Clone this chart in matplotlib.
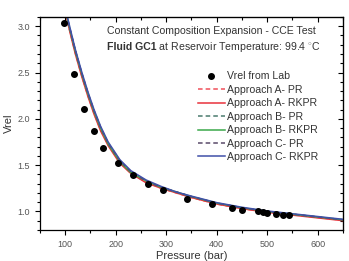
import matplotlib
matplotlib.use("Agg")
import matplotlib.pyplot as plt
from matplotlib.ticker import MultipleLocator

plt.rcParams["font.family"] = ["Liberation Sans", "DejaVu Sans"]
plt.rcParams["mathtext.fontset"] = "custom"
plt.rcParams["mathtext.rm"] = "Liberation Sans"

# lab points
P_LAB = [98, 118, 137, 156, 175, 204, 234, 264, 293, 342, 391, 430, 451, 482, 492, 500, 517, 531, 543]
V_LAB = [3.04, 2.48, 2.11, 1.87, 1.69, 1.52, 1.39, 1.30, 1.23, 1.13, 1.08, 1.04, 1.02, 1.00, 0.995, 0.985, 0.975, 0.965, 0.96]

# model curves
P_CURVE = [95, 100, 110, 120, 133, 145, 157, 170, 185, 208, 230, 260, 290, 320, 350, 400, 450, 500, 550, 600, 650]
A_PR   = [3.30, 3.16, 2.93, 2.71, 2.46, 2.25, 2.06, 1.88, 1.72, 1.53, 1.41, 1.32, 1.25, 1.20, 1.15, 1.08, 1.03, 0.995, 0.965, 0.935, 0.905]
A_RKPR = [3.29, 3.15, 2.92, 2.70, 2.45, 2.24, 2.05, 1.87, 1.71, 1.52, 1.41, 1.31, 1.25, 1.20, 1.15, 1.08, 1.03, 0.99, 0.96, 0.93, 0.90]
B_PR   = [3.32, 3.18, 2.95, 2.73, 2.48, 2.27, 2.08, 1.90, 1.73, 1.54, 1.42, 1.33, 1.26, 1.21, 1.16, 1.09, 1.04, 1.00, 0.97, 0.94, 0.91]
B_RKPR = [3.32, 3.18, 2.95, 2.73, 2.48, 2.27, 2.08, 1.90, 1.73, 1.54, 1.42, 1.33, 1.26, 1.21, 1.16, 1.09, 1.04, 1.00, 0.97, 0.94, 0.91]
C_PR   = [3.33, 3.19, 2.96, 2.74, 2.49, 2.28, 2.09, 1.91, 1.74, 1.55, 1.43, 1.33, 1.26, 1.21, 1.16, 1.09, 1.04, 1.00, 0.97, 0.94, 0.91]
C_RKPR = [3.34, 3.20, 2.97, 2.75, 2.50, 2.29, 2.10, 1.92, 1.75, 1.56, 1.44, 1.34, 1.27, 1.21, 1.165, 1.095, 1.045, 1.005, 0.975, 0.945, 0.915]

CURVES = [
    ("Approach A- PR", A_PR, "#f0505a", "--"),
    ("Approach A- RKPR", A_RKPR, "#e8323c", "-"),
    ("Approach B- PR", B_PR, "#4a7a6e", "--"),
    ("Approach B- RKPR", B_RKPR, "#3aa84a", "-"),
    ("Approach C- PR", C_PR, "#5a4a6a", "--"),
    ("Approach C- RKPR", C_RKPR, "#4050a8", "-"),
]

fig = plt.figure(figsize=(3.49, 2.61), dpi=100)
ax = fig.add_axes([0.1146, 0.119, 0.868, 0.816])

ax.plot(P_LAB, V_LAB, "o", color="black", ms=4, label="Vrel from Lab", zorder=5)
for name, vals, col, ls in CURVES:
    ax.plot(P_CURVE, vals, ls, color=col, lw=1.1, label=name,
            dashes=(3, 2) if ls == "--" else (None, None))

ax.set_xlim(50, 650)
ax.set_ylim(0.8, 3.1)
ax.xaxis.set_major_locator(MultipleLocator(100))
ax.xaxis.set_minor_locator(MultipleLocator(50))
ax.yaxis.set_major_locator(MultipleLocator(0.5))
ax.yaxis.set_minor_locator(MultipleLocator(0.1))
ax.tick_params(which="both", direction="out", labelsize=6.5, labelcolor="#555555", width=0.8)
ax.tick_params(which="major", length=3.5)
ax.tick_params(which="minor", length=2)
for s in ax.spines.values():
    s.set_linewidth(0.9)

# mirrored inward ticks on top and right
secx = ax.secondary_xaxis("top")
secx.xaxis.set_major_locator(MultipleLocator(100))
secx.xaxis.set_minor_locator(MultipleLocator(50))
secx.tick_params(which="both", direction="in", labeltop=False, width=0.8)
secx.tick_params(which="major", length=3.5)
secx.tick_params(which="minor", length=2)
secy = ax.secondary_yaxis("right")
secy.yaxis.set_major_locator(MultipleLocator(0.5))
secy.yaxis.set_minor_locator(MultipleLocator(0.1))
secy.tick_params(which="both", direction="in", labelright=False, width=0.8)
secy.tick_params(which="major", length=3.5)
secy.tick_params(which="minor", length=2)

ax.set_xlabel("Pressure (bar)", fontsize=8, color="#333333", labelpad=2)
ax.set_ylabel("Vrel", fontsize=8, color="#333333", labelpad=3)

ax.text(0.221, 0.936, "Constant Composition Expansion - CCE Test", transform=ax.transAxes,
        fontsize=7.6, color="#333333", va="center")
t_bold = ax.text(0.221, 0.861, "Fluid GC1", transform=ax.transAxes, fontsize=7.6,
                 color="#333333", va="center", fontweight="bold")
fig.canvas.draw()
bb = t_bold.get_window_extent().transformed(ax.transAxes.inverted())
ax.text(bb.x1, 0.861, r" at Reservoir Temperature: 99.4 $^{\circ}$C", transform=ax.transAxes,
        fontsize=7.6, color="#333333", va="center")

ax.legend(loc="upper left", bbox_to_anchor=(0.52, 0.745), frameon=False, fontsize=7.6,
          handlelength=2.6, handletextpad=0.2, labelspacing=0.33, borderpad=0,
          borderaxespad=0, labelcolor="#333333")

fig.savefig("out.png", dpi=100)
